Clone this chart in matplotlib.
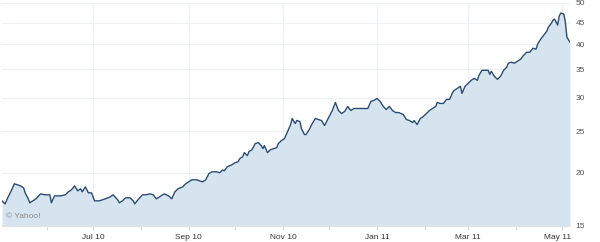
import pandas as pd
import matplotlib
matplotlib.use("Agg")
import matplotlib.pyplot as plt
import matplotlib.dates as mdates
from matplotlib.ticker import FixedLocator, NullFormatter
from matplotlib.transforms import ScaledTranslation

# closing prices (log scale, 15..50)
dates = [
    "2010-05-03", "2010-05-05", "2010-05-07", "2010-05-09", "2010-05-11", "2010-05-13",
    "2010-05-15", "2010-05-17", "2010-05-18", "2010-05-20", "2010-05-21", "2010-05-23",
    "2010-05-25", "2010-05-28", "2010-05-31", "2010-06-03", "2010-06-04", "2010-06-06",
    "2010-06-10", "2010-06-13", "2010-06-15", "2010-06-17", "2010-06-19", "2010-06-21",
    "2010-06-23", "2010-06-24", "2010-06-26", "2010-06-28", "2010-06-30", "2010-07-02",
    "2010-07-05", "2010-07-09", "2010-07-12", "2010-07-14", "2010-07-17", "2010-07-18",
    "2010-07-20", "2010-07-22", "2010-07-25", "2010-07-27", "2010-07-28", "2010-07-30",
    "2010-08-02", "2010-08-04", "2010-08-07", "2010-08-09", "2010-08-11", "2010-08-13",
    "2010-08-16", "2010-08-19", "2010-08-21", "2010-08-23", "2010-08-25", "2010-08-28",
    "2010-08-30", "2010-09-01", "2010-09-03", "2010-09-06", "2010-09-08", "2010-09-10",
    "2010-09-12", "2010-09-14", "2010-09-16", "2010-09-19", "2010-09-21", "2010-09-23",
    "2010-09-24", "2010-09-26", "2010-09-29", "2010-10-01", "2010-10-03", "2010-10-04",
    "2010-10-06", "2010-10-07", "2010-10-09", "2010-10-10", "2010-10-12", "2010-10-14",
    "2010-10-16", "2010-10-18", "2010-10-19", "2010-10-20", "2010-10-22", "2010-10-24",
    "2010-10-26", "2010-10-28", "2010-10-29", "2010-10-31", "2010-11-02", "2010-11-04",
    "2010-11-06", "2010-11-07", "2010-11-09", "2010-11-10", "2010-11-12", "2010-11-13",
    "2010-11-15", "2010-11-16", "2010-11-18", "2010-11-20", "2010-11-22", "2010-11-24",
    "2010-11-26", "2010-11-28", "2010-11-30", "2010-12-02", "2010-12-03", "2010-12-05",
    "2010-12-07", "2010-12-09", "2010-12-11", "2010-12-13", "2010-12-15", "2010-12-17",
    "2010-12-19", "2010-12-21", "2010-12-24", "2010-12-26", "2010-12-28", "2010-12-30",
    "2011-01-01", "2011-01-03", "2011-01-05", "2011-01-07", "2011-01-09", "2011-01-11",
    "2011-01-13", "2011-01-15", "2011-01-18", "2011-01-20", "2011-01-22", "2011-01-24",
    "2011-01-25", "2011-01-27", "2011-01-29", "2011-01-31", "2011-02-02", "2011-02-04",
    "2011-02-06", "2011-02-08", "2011-02-09", "2011-02-11", "2011-02-13", "2011-02-15",
    "2011-02-17", "2011-02-19", "2011-02-20", "2011-02-22", "2011-02-24", "2011-02-25",
    "2011-02-27", "2011-03-01", "2011-03-03", "2011-03-05", "2011-03-07", "2011-03-08",
    "2011-03-10", "2011-03-12", "2011-03-14", "2011-03-15", "2011-03-16", "2011-03-18",
    "2011-03-20", "2011-03-22", "2011-03-24", "2011-03-26", "2011-03-27", "2011-03-29",
    "2011-03-31", "2011-04-02", "2011-04-04", "2011-04-06", "2011-04-08", "2011-04-10",
    "2011-04-12", "2011-04-14", "2011-04-15", "2011-04-17", "2011-04-19", "2011-04-21",
    "2011-04-22", "2011-04-24", "2011-04-25", "2011-04-26", "2011-04-28", "2011-04-29",
    "2011-04-30", "2011-05-02", "2011-05-03", "2011-05-04", "2011-05-06",
]
prices = [
    17.18, 16.90, 17.55, 18.14, 18.84, 18.73,
    18.63, 18.43, 17.94, 17.37, 17.00, 17.18,
    17.37, 17.84, 17.75, 17.75, 17.00, 17.65,
    17.65, 17.75, 18.04, 18.23, 18.63, 18.14,
    18.33, 18.04, 18.53, 17.94, 17.94, 17.18,
    17.18, 17.37, 17.55, 17.75, 17.27, 17.00,
    17.18, 17.46, 17.46, 17.18, 16.90, 17.27,
    17.75, 17.75, 17.84, 17.75, 17.37, 17.55,
    17.84, 17.65, 17.37, 18.04, 18.33, 18.53,
    18.84, 19.04, 19.25, 19.25, 19.15, 19.04,
    19.25, 19.89, 20.10, 20.10, 20.00, 20.30,
    20.20, 20.66, 20.88, 21.11, 21.23, 21.57,
    21.81, 22.29, 21.93, 22.41, 22.65, 23.40,
    23.53, 23.15, 22.78, 23.15, 22.29, 22.65,
    22.78, 22.90, 23.40, 23.78, 24.04, 24.97,
    25.94, 26.80, 26.08, 26.51, 26.37, 25.38,
    24.57, 24.57, 25.24, 26.08, 26.80, 26.65,
    26.51, 25.80, 26.65, 27.53, 27.99, 29.23,
    27.99, 27.53, 27.84, 28.60, 27.99, 28.29,
    28.29, 28.29, 28.29, 28.29, 29.39, 29.55,
    29.87, 29.39, 28.60, 28.14, 28.60, 27.99,
    27.68, 27.68, 27.39, 26.65, 26.51, 26.22,
    26.51, 25.94, 26.80, 27.09, 27.53, 27.99,
    28.29, 28.60, 29.23, 29.07, 29.07, 29.71,
    29.71, 30.86, 31.19, 31.53, 31.88, 30.69,
    31.88, 32.40, 32.93, 33.29, 32.93, 33.84,
    34.77, 34.77, 34.77, 34.02, 34.58, 33.66,
    33.11, 33.66, 34.77, 35.34, 36.12, 36.32,
    36.12, 36.51, 36.91, 37.71, 38.33, 38.33,
    39.17, 38.96, 40.03, 41.13, 42.04, 42.95,
    43.89, 44.85, 45.59, 45.84, 44.37, 46.59,
    47.35, 47.10, 45.10, 41.57, 40.47,
]
y_ticks = [15, 20, 25, 30, 35, 40, 45, 50]

plt.rcParams['font.family'] = ['Liberation Sans', 'DejaVu Sans']

x = pd.to_datetime(dates)
y_min, y_max = 15, 50

fig = plt.figure(figsize=(6, 2.42), dpi=100)
ax = fig.add_axes([2 / 600, 16 / 242, 568 / 600, 223 / 242])

ax.fill_between(x, prices, y_min, color='#d6e4f0', lw=0)
ax.plot(x, prices, color='#2b4b70', lw=1.0)

ax.set_yscale('log')
ax.set_ylim(y_min, y_max)
ax.set_xlim(pd.Timestamp('2010-05-03'), pd.Timestamp('2011-05-06'))

# y axis on the right
ax.yaxis.tick_right()
ax.yaxis.set_major_locator(FixedLocator(y_ticks))
ax.yaxis.set_minor_locator(FixedLocator([]))
ax.yaxis.set_minor_formatter(NullFormatter())
ax.set_yticklabels([str(t) for t in y_ticks])
ax.tick_params(axis='y', length=0, pad=4, labelsize=6, labelcolor='#555555')

# x axis: label every other month, tick every month
ax.xaxis.set_major_locator(mdates.MonthLocator(bymonth=[1, 3, 5, 7, 9, 11]))
ax.xaxis.set_minor_locator(mdates.MonthLocator())
ax.xaxis.set_major_formatter(mdates.DateFormatter('%b %y'))
ax.tick_params(axis='x', which='both', length=3, color='#d8d8d8', pad=3,
               labelsize=6, labelcolor='#333333')

ax.grid(True, which='major', color='#edf1f5', lw=0.8)
ax.set_axisbelow(True)

for side in ['top', 'left', 'right']:
    ax.spines[side].set_visible(False)
ax.spines['bottom'].set_color('#e2e2e2')
ax.spines['bottom'].set_linewidth(0.8)

ax.text(0.007, 0.025, '\u00a9 Yahoo!', transform=ax.transAxes, fontsize=6,
        color='#8a8a8a', ha='left', va='bottom')

# the last label gets pulled left so it stays inside the chart
fig.canvas.draw()
last = ax.get_xticklabels()[-1]
last.set_transform(last.get_transform() + ScaledTranslation(-0.05, 0, fig.dpi_scale_trans))

fig.savefig('out.png', dpi=100)
